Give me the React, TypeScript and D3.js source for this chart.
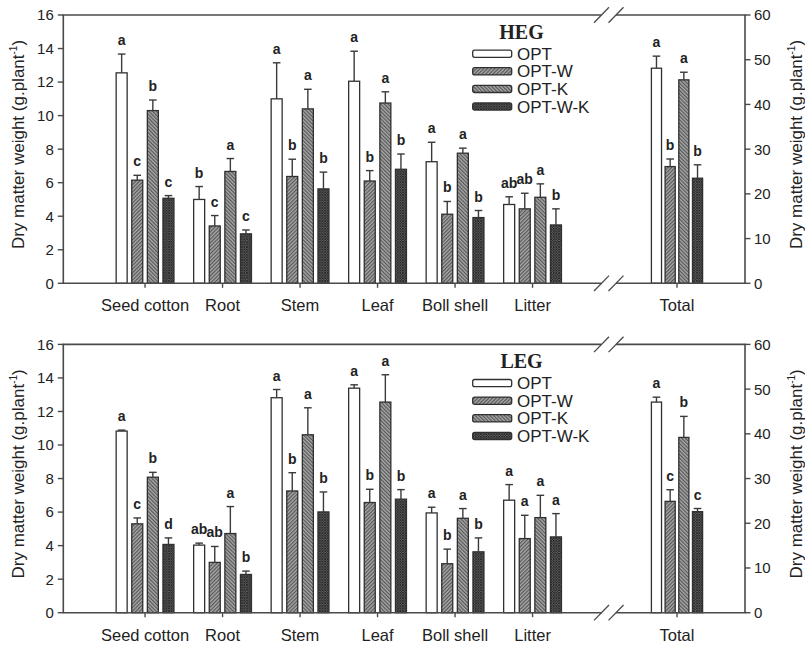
import React, { useRef, useEffect } from 'react';
import * as d3 from 'd3';

// Categories and treatments
const categories = ['Seed cotton', 'Root', 'Stem', 'Leaf', 'Boll shell', 'Litter'];
const treatments = ['OPT', 'OPT-W', 'OPT-K', 'OPT-W-K'];
const totalLabel = 'Total';
const leftTicks = [0, 2, 4, 6, 8, 10, 12, 14, 16];
const rightTicks = [0, 10, 20, 30, 40, 50, 60];

// HEG means per category (one array per treatment)
const hegOpt = [12.55, 5.0, 11.0, 12.05, 7.25, 4.7];
const hegOptW = [6.15, 3.42, 6.37, 6.1, 4.12, 4.44];
const hegOptK = [10.3, 6.67, 10.4, 10.75, 7.76, 5.13];
const hegOptWK = [5.07, 2.95, 5.63, 6.8, 3.92, 3.48];
// HEG standard errors
const hegOptErr = [1.12, 0.77, 2.15, 1.79, 1.16, 0.46];
const hegOptWErr = [0.29, 0.62, 1.03, 0.62, 0.76, 0.93];
const hegOptKErr = [0.63, 0.77, 1.17, 0.67, 0.3, 0.8];
const hegOptWKErr = [0.16, 0.23, 1.0, 0.91, 0.42, 0.96];
// HEG significance letters
const hegOptSig = ['a', 'b', 'a', 'a', 'a', 'ab'];
const hegOptWSig = ['c', 'c', 'b', 'b', 'b', 'ab'];
const hegOptKSig = ['b', 'a', 'a', 'a', 'a', 'a'];
const hegOptWKSig = ['c', 'c', 'b', 'b', 'b', 'b'];
// HEG totals (right axis)
const hegTotal = [48.1, 26.1, 45.5, 23.5];
const hegTotalErr = [2.7, 1.7, 1.7, 3.0];
const hegTotalSig = ['a', 'b', 'a', 'b'];

// LEG means
const legOpt = [10.83, 4.03, 12.82, 13.39, 5.95, 6.71];
const legOptW = [5.3, 3.0, 7.26, 6.57, 2.92, 4.42];
const legOptK = [8.08, 4.72, 10.61, 12.56, 5.63, 5.67];
const legOptWK = [4.07, 2.28, 6.01, 6.77, 3.63, 4.52];
// LEG standard errors
const legOptErr = [0.06, 0.12, 0.49, 0.2, 0.34, 0.93];
const legOptWErr = [0.35, 0.95, 1.09, 0.79, 0.87, 1.39];
const legOptKErr = [0.29, 1.61, 1.61, 1.63, 0.58, 1.33];
const legOptWKErr = [0.39, 0.2, 1.19, 0.57, 0.83, 1.39];
// LEG significance letters
const legOptSig = ['a', 'ab', 'a', 'a', 'a', 'a'];
const legOptWSig = ['c', 'ab', 'b', 'b', 'b', 'a'];
const legOptKSig = ['b', 'a', 'a', 'a', 'a', 'a'];
const legOptWKSig = ['d', 'b', 'b', 'b', 'b', 'a'];
// LEG totals
const legTotal = [47.1, 24.9, 39.2, 22.6];
const legTotalErr = [1.1, 2.6, 4.7, 0.7];
const legTotalSig = ['a', 'c', 'b', 'c'];

const panels = [
  {
    name: 'HEG',
    top: 15,
    means: [hegOpt, hegOptW, hegOptK, hegOptWK],
    errs: [hegOptErr, hegOptWErr, hegOptKErr, hegOptWKErr],
    sigs: [hegOptSig, hegOptWSig, hegOptKSig, hegOptWKSig],
    total: hegTotal, totalErr: hegTotalErr, totalSig: hegTotalSig,
  },
  {
    name: 'LEG',
    top: 344.4,
    means: [legOpt, legOptW, legOptK, legOptWK],
    errs: [legOptErr, legOptWErr, legOptKErr, legOptWKErr],
    sigs: [legOptSig, legOptWSig, legOptKSig, legOptWKSig],
    total: legTotal, totalErr: legTotalErr, totalSig: legTotalSig,
  },
];

const FILLS = ['#ffffff', 'url(#hatchW)', 'url(#hatchK)', 'url(#crossWK)'];
const SANS = '"Liberation Sans", Arial, sans-serif';
const SERIF = '"Liberation Serif", "Times New Roman", serif';
const AXIS = '#4a4a4a';
const TEXT = '#222';

// Layout
const plotLeft = 63.3;
const plotRight = 745;
const breakL = 601.5;
const breakR = 616;
const plotH = 268.3;

const App: React.FC = () => {
  const svgRef = useRef<SVGSVGElement>(null);

  useEffect(() => {
    if (!svgRef.current) return;
    const svg = d3.select(svgRef.current);
    svg.selectAll('*').remove();

    // Hatch patterns (fine diagonal lines on a mid-grey ground)
    const defs = svg.append('defs');
    const addHatch = (id: string, angle: number) => {
      const s = 2.6;
      const p = defs.append('pattern')
        .attr('id', id)
        .attr('patternUnits', 'userSpaceOnUse')
        .attr('width', s)
        .attr('height', s)
        .attr('patternTransform', `rotate(${angle})`);
      p.append('rect').attr('width', s).attr('height', s).attr('fill', '#a8a8a8');
      p.append('line')
        .attr('x1', 0.6).attr('y1', 0).attr('x2', 0.6).attr('y2', s)
        .attr('stroke', '#505050').attr('stroke-width', 1.1);
    };
    addHatch('hatchW', 45);
    addHatch('hatchK', -45);
    // cross hatch, darker
    const cp = defs.append('pattern')
      .attr('id', 'crossWK')
      .attr('patternUnits', 'userSpaceOnUse')
      .attr('width', 2.6)
      .attr('height', 2.6);
    cp.append('rect').attr('width', 2.6).attr('height', 2.6).attr('fill', '#5c5c5c');
    cp.append('path').attr('d', 'M0,0 L2.6,2.6 M2.6,0 L0,2.6').attr('stroke', '#262626').attr('stroke-width', 0.8);

    // X scales (shared by both panels)
    const xCat = d3.scaleBand<string>().domain(categories).range([106.3, 571.3]);
    const xSub = d3.scaleBand<string>().domain(treatments).range([-28.9, 28.9]).paddingInner(0.295);
    const xTot = d3.scaleBand<string>().domain([totalLabel]).range([609, plotRight]);
    const xSubTot = d3.scaleBand<string>().domain(treatments).range([-25.6, 25.6]).paddingInner(0.26);

    const catCenter = (c: string) => (xCat(c) as number) + xCat.bandwidth() / 2;
    const totCenter = (xTot(totalLabel) as number) + xTot.bandwidth() / 2;

    const drawPanel = (p: typeof panels[number]) => {
      const base = p.top + plotH;
      const yL = d3.scaleLinear().domain([0, 16]).range([base, p.top]);
      const yR = d3.scaleLinear().domain([0, 60]).range([base, p.top]);
      const g = svg.append('g');

      // Bars, error bars, letters
      const drawBar = (cx: number, w: number, mean: number, err: number, sig: string, fill: string, y: d3.ScaleLinear<number, number>) => {
        g.append('rect')
          .attr('x', cx - w / 2)
          .attr('y', y(mean))
          .attr('width', w)
          .attr('height', base - y(mean))
          .attr('fill', fill)
          .attr('stroke', '#303030')
          .attr('stroke-width', 1.3);
        const capY = y(mean + err);
        g.append('line')
          .attr('x1', cx).attr('x2', cx).attr('y1', y(mean)).attr('y2', capY)
          .attr('stroke', '#3a3a3a').attr('stroke-width', 1.4);
        g.append('line')
          .attr('x1', cx - 3.8).attr('x2', cx + 3.8).attr('y1', capY).attr('y2', capY)
          .attr('stroke', '#3a3a3a').attr('stroke-width', 1.4);
        g.append('text')
          .attr('x', cx)
          .attr('y', capY - 9)
          .attr('text-anchor', 'middle')
          .attr('font-family', SANS)
          .attr('font-weight', 'bold')
          .attr('font-size', 14)
          .attr('fill', TEXT)
          .text(sig);
      };

      categories.forEach((c, ci) => {
        treatments.forEach((t, ti) => {
          const cx = catCenter(c) + (xSub(t) as number) + xSub.bandwidth() / 2;
          drawBar(cx, xSub.bandwidth(), p.means[ti][ci], p.errs[ti][ci], p.sigs[ti][ci], FILLS[ti], yL);
        });
      });
      treatments.forEach((t, ti) => {
        const cx = totCenter + (xSubTot(t) as number) + xSubTot.bandwidth() / 2;
        drawBar(cx, xSubTot.bandwidth(), p.total[ti], p.totalErr[ti], p.totalSig[ti], FILLS[ti], yR);
      });

      // Frame with axis break
      const line = (x1: number, y1: number, x2: number, y2: number, w = 1.6) =>
        g.append('line')
          .attr('x1', x1).attr('y1', y1).attr('x2', x2).attr('y2', y2)
          .attr('stroke', AXIS).attr('stroke-width', w);
      line(plotLeft, p.top, plotLeft, base);
      line(plotRight, p.top, plotRight, base);
      [p.top, base].forEach(yy => {
        line(plotLeft - 0.8, yy, breakL, yy);
        line(breakR, yy, plotRight + 0.8, yy);
        line(breakL - 7.5, yy + 7.7, breakL + 7.5, yy - 7.7, 1.3);
        line(breakR - 7.5, yy + 7.7, breakR + 7.5, yy - 7.7, 1.3);
      });

      // Left axis ticks
      leftTicks.forEach(v => {
        line(plotLeft - 5.5, yL(v), plotLeft, yL(v), 1.4);
        g.append('text')
          .attr('x', plotLeft - 9.5)
          .attr('y', yL(v))
          .attr('dy', '0.36em')
          .attr('text-anchor', 'end')
          .attr('font-family', SANS)
          .attr('font-size', 15)
          .attr('fill', TEXT)
          .text(v);
      });
      // Right axis ticks
      rightTicks.forEach(v => {
        line(plotRight, yR(v), plotRight + 5.5, yR(v), 1.4);
        g.append('text')
          .attr('x', plotRight + 9)
          .attr('y', yR(v))
          .attr('dy', '0.36em')
          .attr('text-anchor', 'start')
          .attr('font-family', SANS)
          .attr('font-size', 15)
          .attr('fill', TEXT)
          .text(v);
      });

      // Category ticks and labels
      const catLabel = (x: number, label: string) => {
        line(x, base, x, base + 4.5, 1.4);
        g.append('text')
          .attr('x', x)
          .attr('y', base + 28)
          .attr('text-anchor', 'middle')
          .attr('font-family', SANS)
          .attr('font-size', 16.5)
          .attr('fill', TEXT)
          .text(label);
      };
      categories.forEach(c => catLabel(catCenter(c), c));
      catLabel(totCenter, totalLabel);

      // Y axis titles
      const yTitle = (x: number) => {
        const t = g.append('text')
          .attr('transform', `translate(${x},${p.top + 129.5}) rotate(-90)`)
          .attr('text-anchor', 'middle')
          .attr('font-family', SANS)
          .attr('font-size', 17)
          .attr('fill', TEXT);
        t.append('tspan').text('Dry matter weight (g.plant');
        t.append('tspan').attr('font-size', 10).attr('dy', -7).text('-1');
        t.append('tspan').attr('dy', 7).text(')');
      };
      yTitle(23.5);
      yTitle(802);

      // Legend
      g.append('text')
        .attr('x', 521.5)
        .attr('y', p.top + 23.5)
        .attr('text-anchor', 'middle')
        .attr('font-family', SERIF)
        .attr('font-weight', 'bold')
        .attr('font-size', 20)
        .attr('fill', TEXT)
        .text(p.name);
      treatments.forEach((t, ti) => {
        const cy = p.top + 38.7 + ti * 17.6;
        g.append('rect')
          .attr('x', 472.7)
          .attr('y', cy - 3.6)
          .attr('width', 39)
          .attr('height', 7.2)
          .attr('rx', 2)
          .attr('fill', FILLS[ti])
          .attr('stroke', '#303030')
          .attr('stroke-width', 1.3);
        g.append('text')
          .attr('x', 517)
          .attr('y', cy)
          .attr('dy', '0.36em')
          .attr('font-family', SANS)
          .attr('font-size', 17)
          .attr('fill', TEXT)
          .text(t);
      });
    };

    panels.forEach(drawPanel);
  }, []);

  return (
    <svg
      ref={svgRef}
      width={805}
      height={645}
      style={{ position: 'absolute', left: 0, top: 0, background: '#fff' }}
    />
  );
};

export default App;
